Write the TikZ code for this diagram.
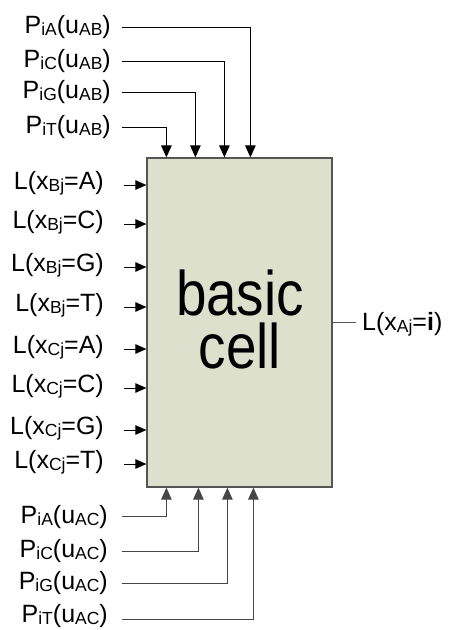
\documentclass[tikz,border=0pt]{standalone}
\usepackage{fontspec}
\setmainfont{Liberation Sans}
\usetikzlibrary{arrows.meta,calc}
\definecolor{cellfill}{RGB}{221,224,204}
\definecolor{cellline}{RGB}{85,85,85}
\definecolor{botline}{RGB}{70,70,70}
\newcommand{\sbs}[1]{\raisebox{-2.5pt}{\fontsize{17.5}{17.5}\selectfont #1}}
\newcommand{\bigtxt}[1]{\scalebox{0.87}[1]{#1}}
\begin{document}
\begin{tikzpicture}[x=1pt,y=-1pt,
  lab/.style={inner sep=0pt, font=\fontsize{25}{25}\selectfont},
  toparr/.style={-{Triangle[length=12pt,width=10.5pt]}, line width=1pt, draw=black},
  botarr/.style={-{Triangle[length=12pt,width=10.5pt]}, line width=1pt, draw=botline},
  leftarr/.style={-{Triangle[length=11pt,width=9.5pt]}, line width=1pt, draw=black},
  cellbox/.style={draw=cellline, fill=cellfill, line width=1.2pt, inner sep=0pt,
    minimum width=185pt, minimum height=329pt}]
\useasboundingbox (0,0) rectangle (454,630);

% basic cell
\node[cellbox] (cell) at (239.5,322.5) {};
\node[font=\fontsize{63}{53}\selectfont, align=center, inner sep=0pt] (celltext) at (240,319)
  {\bigtxt{basic}\\\bigtxt{cell}};

% top inputs
\node[lab, anchor=base east] (tA) at (111,33) {P\sbs{iA}(u\sbs{AB})};
\node[lab, anchor=base east] (tC) at (111,67) {P\sbs{iC}(u\sbs{AB})};
\node[lab, anchor=base east] (tG) at (111,98) {P\sbs{iG}(u\sbs{AB})};
\node[lab, anchor=base east] (tT) at (111,133) {P\sbs{iT}(u\sbs{AB})};
\draw[toparr] ($(tA.base east)+(11,-6)$) -| ([xshift=104pt]cell.north west);
\draw[toparr] ($(tC.base east)+(11,-6)$) -| ([xshift=78pt]cell.north west);
\draw[toparr] ($(tG.base east)+(11,-6)$) -| ([xshift=49pt]cell.north west);
\draw[toparr] ($(tT.base east)+(11,-6)$) -| ([xshift=20pt]cell.north west);

% left inputs
\node[lab, anchor=base east] (lBA) at (104,189) {L(x\sbs{Bj}=A)};
\node[lab, anchor=base east] (lBC) at (104,228) {L(x\sbs{Bj}=C)};
\node[lab, anchor=base east] (lBG) at (104,271) {L(x\sbs{Bj}=G)};
\node[lab, anchor=base east] (lBT) at (104,311) {L(x\sbs{Bj}=T)};
\node[lab, anchor=base east] (lCA) at (104,353) {L(x\sbs{Cj}=A)};
\node[lab, anchor=base east] (lCC) at (104,392) {L(x\sbs{Cj}=C)};
\node[lab, anchor=base east] (lCG) at (104,434) {L(x\sbs{Cj}=G)};
\node[lab, anchor=base east] (lCT) at (104,468) {L(x\sbs{Cj}=T)};
\foreach \n in {lBA,lBC,lBG,lBT,lCA,lCC,lCG,lCT}{
  \coordinate (s\n) at ($(\n.base east)+(20,-4)$);
  \draw[leftarr] (s\n) -- (s\n -| cell.west);
}

% bottom inputs
\node[lab, anchor=base east] (bA) at (108,523) {P\sbs{iA}(u\sbs{AC})};
\node[lab, anchor=base east] (bC) at (108,557) {P\sbs{iC}(u\sbs{AC})};
\node[lab, anchor=base east] (bG) at (108,589) {P\sbs{iG}(u\sbs{AC})};
\node[lab, anchor=base east] (bT) at (108,622) {P\sbs{iT}(u\sbs{AC})};
\draw[botarr] ($(bA.base east)+(14,-7)$) -| ([xshift=20pt]cell.south west);
\draw[botarr] ($(bC.base east)+(14,-6)$) -| ([xshift=52pt]cell.south west);
\draw[botarr] ($(bG.base east)+(14,-6)$) -| ([xshift=81pt]cell.south west);
\draw[botarr] ($(bT.base east)+(14,-3)$) -| ([xshift=107pt]cell.south west);

% output
\coordinate (oend) at ($(cell.east)+(23,0)$);
\draw[draw=cellline, line width=1pt] (cell.east) -- (oend);
\node[lab, anchor=base west] (out) at (362,330) {L(x\sbs{Aj}=\textbf{i})};
\end{tikzpicture}
\end{document}
